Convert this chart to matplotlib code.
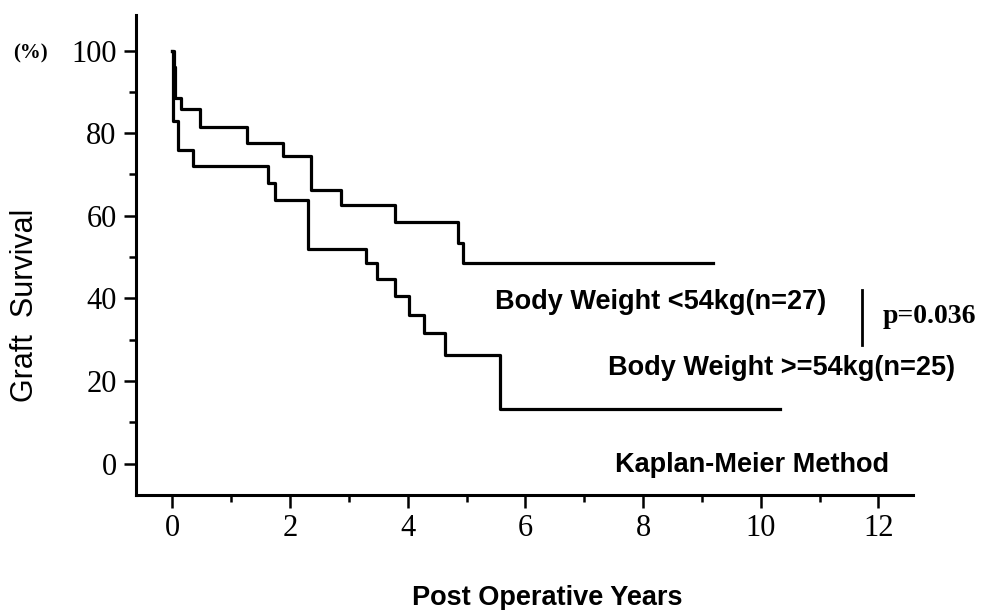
import numpy as np
import matplotlib
matplotlib.use("Agg")
import matplotlib.pyplot as plt

# Kaplan-Meier steps (years, % surviving)
light_t = [0, 0.02, 0.04, 0.15, 0.46, 1.26, 1.88, 2.36, 2.86, 3.79, 4.85, 4.94, 9.19]
light_s = [100, 96, 88.6, 85.8, 81.6, 77.5, 74.5, 66.3, 62.6, 58.4, 53.3, 48.6, 48.6]

heavy_t = [0, 0.01, 0.10, 0.35, 1.63, 1.74, 2.30, 3.29, 3.48, 3.78, 4.02, 4.27, 4.63, 5.57, 10.33]
heavy_s = [100, 83, 75.8, 72.1, 68, 63.9, 51.9, 48.6, 44.8, 40.6, 36, 31.7, 26.2, 13.3, 13.3]

xticks = [0, 2, 4, 6, 8, 10, 12]
yticks = [0, 20, 40, 60, 80, 100]

serif = "Liberation Serif"
sans = "Liberation Sans"

fig = plt.figure(figsize=(9.89, 6.10), dpi=100)
ax = fig.add_axes([0.1375, 0.1885, 0.9232 - 0.1375, 0.9754 - 0.1885])

ax.step(light_t, light_s, where="post", color="black", lw=2.3)
ax.step(heavy_t, heavy_s, where="post", color="black", lw=2.3)

ax.set_xlim(-0.62, 12.59)
ax.set_ylim(-7.6, 108.6)

for s in ["top", "right"]:
    ax.spines[s].set_visible(False)
for s in ["left", "bottom"]:
    ax.spines[s].set_linewidth(2.2)

ax.set_xticks(xticks)
ax.set_yticks(yticks)
ax.set_xticks(np.arange(1, 13, 2), minor=True)
ax.set_yticks(np.arange(10, 101, 20), minor=True)
ax.tick_params(which="major", length=9, width=1.8, pad=5)
ax.tick_params(which="minor", length=5, width=1.8)
for lab in ax.get_xticklabels() + ax.get_yticklabels():
    lab.set_fontfamily(serif)
    lab.set_fontsize(22)

ax.text(5.48, 39.1, "Body Weight <54kg(n=27)", fontfamily=sans, fontweight="bold",
        fontsize=19.5, va="center", ha="left")
ax.text(7.40, 23.1, "Body Weight >=54kg(n=25)", fontfamily=sans, fontweight="bold",
        fontsize=19.5, va="center", ha="left")
ax.text(7.52, -0.4, "Kaplan-Meier Method", fontfamily=sans, fontweight="bold",
        fontsize=19.5, va="center", ha="left")
ax.plot([11.72, 11.72], [42.0, 28.7], color="black", lw=2)
ax.text(12.08, 35.5, "p=0.036", fontfamily=serif, fontweight="bold",
        fontsize=20, va="center", ha="left", clip_on=False)

fig.text(25 / 989, 1 - 305 / 610, "Graft  Survival", rotation=90, fontfamily=sans,
         fontsize=22, va="center", ha="center")
fig.text(412 / 989, 1 - 598 / 610, "Post Operative Years", fontfamily=sans,
         fontweight="bold", fontsize=19.5, va="center", ha="left")
fig.text(30 / 989, 1 - 53 / 610, "(%)", fontfamily=serif, fontweight="bold",
         fontsize=15, va="center", ha="center")

fig.savefig("out.png", dpi=100)
